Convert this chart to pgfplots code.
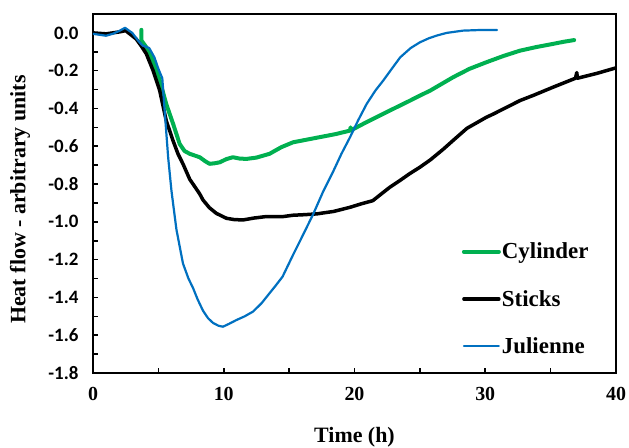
\documentclass[border=0pt]{standalone}
\usepackage{fontspec}
\setmainfont{Liberation Serif}
\newfontfamily\carlito{Carlito}
\usepackage{pgfplots}
\pgfplotsset{compat=1.18}
\definecolor{cylgreen}{RGB}{0,176,80}
\definecolor{julblue}{RGB}{0,112,192}
\begin{document}
\begin{tikzpicture}
\useasboundingbox (-93bp,-75bp) rectangle (536bp,373bp);
\begin{axis}[
  scale only axis,
  width=523bp, height=359bp,
  xmin=0, xmax=40, ymin=-1.8, ymax=0.1,
  axis line style={line width=2.2bp},
  xtick={0,10,20,30,40},
  minor xtick={5,15,25,35},
  ytick={-1.8,-1.6,-1.4,-1.2,-1.0,-0.8,-0.6,-0.4,-0.2,0},
  yticklabels={-1.8,-1.6,-1.4,-1.2,-1.0,-0.8,-0.6,-0.4,-0.2,0.0},
  minor ytick={-1.7,-1.5,-1.3,-1.1,-0.9,-0.7,-0.5,-0.3,-0.1},
  xtick pos=bottom, ytick pos=left,
  tick align=inside,
  major tick length=5bp, minor tick length=5bp,
  every tick/.style={black, line width=1.6bp},
  minor tick style={black, line width=1.6bp},
  xticklabel style={font=\bfseries\fontsize{20}{22}\selectfont, yshift=-11bp},
  yticklabel style={font=\carlito\bfseries\fontsize{19}{21}\selectfont, xshift=-11bp},
  xticklabels={0,10,20,30,40},
  xlabel={Time (h)},
  ylabel={Heat flow - arbitrary units},
  xlabel style={font=\bfseries\fontsize{22}{24}\selectfont, at={(axis description cs:0.5,-0.178)}, anchor=center},
  ylabel style={font=\bfseries\fontsize{22}{24}\selectfont, at={(axis description cs:-0.1396,0.483)}, anchor=center},
  legend style={draw=none, fill=none, at={(axis cs:28.2,-1.105)}, anchor=north west,
    font=\bfseries\fontsize{23}{25}\selectfont, row sep=28bp, inner sep=0pt,
    nodes={inner sep=1bp}},
  legend cell align=left,
  legend image code/.code={\draw[#1] (0bp,0bp) -- (35bp,0bp);},
  every axis plot/.append style={line join=round, line cap=round},
]
\addplot[cylgreen, line width=4bp] coordinates {
(3.7,0.016) (3.7,-0.04) (4.08,-0.076) (4.6,-0.15) (5.1,-0.25) (5.6,-0.376) (6.12,-0.48)
(6.63,-0.588) (7.0,-0.625) (7.4,-0.64) (8.16,-0.658) (8.6,-0.68) (8.92,-0.693) (9.3,-0.69)
(9.69,-0.685) (10.2,-0.668) (10.7,-0.658) (11.2,-0.665) (11.73,-0.667) (12.5,-0.66)
(13.5,-0.64) (14.4,-0.605) (15.3,-0.579) (16.2,-0.567) (17.1,-0.555) (18.6,-0.535)
(19.66,-0.517) (19.7,-0.5) (19.75,-0.515) (20.9,-0.473) (22.7,-0.411) (24.2,-0.36)
(25.0,-0.332) (25.8,-0.305) (27.56,-0.234) (28.8,-0.19) (30.1,-0.155) (31.4,-0.122)
(32.66,-0.094) (33.9,-0.075) (35.2,-0.058) (36.0,-0.047) (36.8,-0.038)
};
\addlegendentry{Cylinder}
\addplot[black, line width=3.5bp] coordinates {
(0,0.0) (1.0,-0.005) (2.0,0.005) (2.5,0.012) (3.3,-0.032) (3.7,-0.07) (4.08,-0.111)
(4.6,-0.2) (5.1,-0.305) (5.6,-0.464) (6.12,-0.57) (6.5,-0.64) (6.88,-0.693) (7.4,-0.775)
(7.65,-0.8) (8.16,-0.852) (8.41,-0.884) (8.9,-0.925) (9.43,-0.955) (10.2,-0.981)
(10.8,-0.988) (11.47,-0.99) (12.3,-0.98) (13.25,-0.972) (14.55,-0.972) (15.3,-0.965)
(16.2,-0.962) (17.1,-0.958) (18.4,-0.945) (19.66,-0.923) (20.5,-0.905) (21.4,-0.888)
(22.0,-0.855) (22.7,-0.817) (23.5,-0.78) (24.2,-0.746) (25.0,-0.711) (25.8,-0.672)
(26.8,-0.615) (27.56,-0.568) (28.6,-0.505) (30.1,-0.446) (30.6,-0.43) (32.66,-0.358)
(33.7,-0.33) (35.2,-0.287) (36.9,-0.24) (37.0,-0.21) (37.05,-0.24) (38.5,-0.215) (40,-0.185)
};
\addlegendentry{Sticks}
\addplot[julblue, line width=2.2bp] coordinates {
(0,-0.005) (0.5,-0.01) (1.0,-0.015) (1.5,-0.005) (2.0,0.01) (2.45,0.027) (3.0,0.0)
(3.5,-0.045) (3.8,-0.067) (4.3,-0.08) (4.7,-0.13) (5.0,-0.19) (5.3,-0.24) (5.5,-0.43)
(5.75,-0.66) (6.0,-0.835) (6.38,-1.04) (6.88,-1.22) (7.3,-1.3) (7.65,-1.35) (8.0,-1.41)
(8.41,-1.47) (8.8,-1.51) (9.18,-1.535) (9.6,-1.55) (9.94,-1.555) (10.4,-1.54) (10.96,-1.52)
(11.6,-1.5) (12.24,-1.475) (12.9,-1.43) (13.5,-1.378) (14.0,-1.335) (14.5,-1.29)
(15.3,-1.175) (16.1,-1.064) (16.85,-0.958) (17.6,-0.84) (18.4,-0.729) (19.0,-0.64)
(19.66,-0.552) (20.3,-0.46) (20.93,-0.376) (21.6,-0.305) (22.2,-0.252) (22.85,-0.19)
(23.5,-0.129) (24.3,-0.08) (25.0,-0.05) (25.7,-0.028) (26.3,-0.014) (27.05,0.0)
(28.3,0.012) (29.5,0.015) (30.9,0.015)
};
\addlegendentry{Julienne}
\end{axis}
\end{tikzpicture}
\end{document}
